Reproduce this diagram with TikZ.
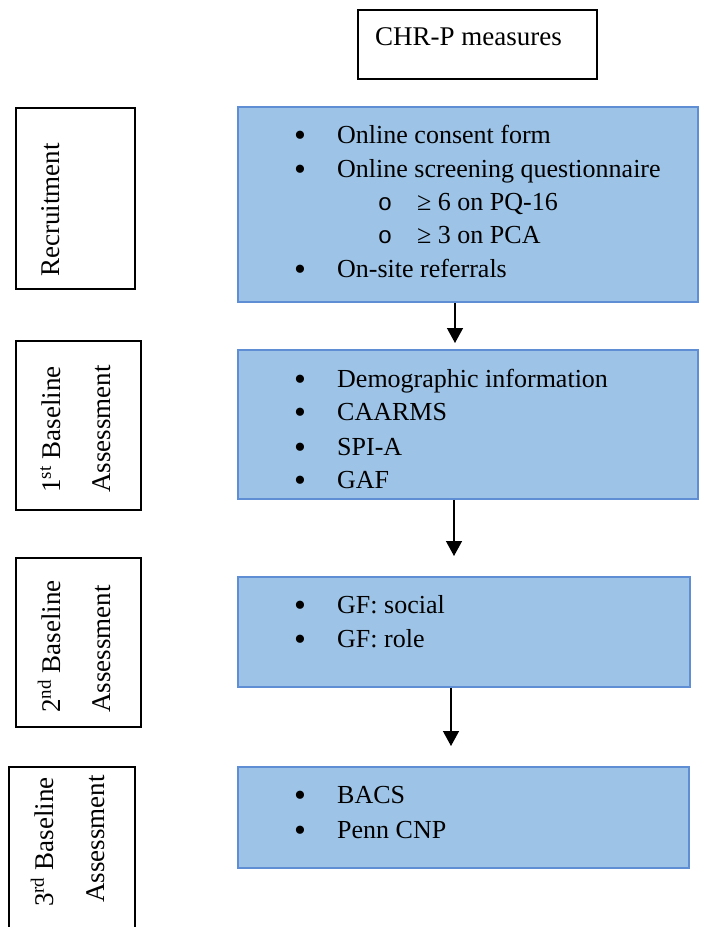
\documentclass[tikz,border=0pt]{standalone}
\usepackage{fontspec}
\setmainfont{Liberation Serif}
\newfontfamily\monofont{Liberation Mono}
\usetikzlibrary{arrows.meta}
\definecolor{boxfill}{RGB}{157,195,230}
\definecolor{boxline}{RGB}{96,142,212}
\tikzset{
  bluebox/.style={draw=boxline, fill=boxfill, line width=1.5pt, inner sep=0pt},
  labelbox/.style={draw=black, line width=1.3pt, inner sep=0pt},
  itemtext/.style={anchor=base west, inner sep=0pt, font=\fontsize{26}{30}\selectfont},
  bul/.style={anchor=base, inner sep=0pt, font=\fontsize{34}{38}\selectfont, yshift=-3.5pt},
  subbul/.style={anchor=base, inner sep=0pt, font=\monofont\fontsize{24}{28}\selectfont},
  sidetext/.style={anchor=base west, inner sep=0pt, rotate=90, font=\fontsize{27}{32}\selectfont},
  arr/.style={line width=1.4pt, -{Triangle[width=16pt,length=15pt]}}
}
\begin{document}
\begin{tikzpicture}[x=1pt,y=-1pt]
\useasboundingbox (0,0) rectangle (701,927);
% header
\node[labelbox, minimum width=239pt, minimum height=69pt] (hdr) at (477.5,44.5) {};
\node[anchor=base west, inner sep=0pt, font=\fontsize{27}{32}\selectfont] (hdrt) at (375,45) {CHR-P measures};
% left label boxes
\node[labelbox, minimum width=119pt, minimum height=181pt] (l1) at (75.5,198.5) {};
\node[sidetext] (l1t) at (59,277) {Recruitment};
\node[labelbox, minimum width=125pt, minimum height=169pt] (l2) at (78.5,425.5) {};
\node[sidetext] (l2a) at (60,493) {1\textsuperscript{st} Baseline};
\node[sidetext] (l2b) at (110,493) {Assessment};
\node[labelbox, minimum width=125pt, minimum height=169pt] (l3) at (78.5,642.5) {};
\node[sidetext] (l3a) at (60,713) {2\textsuperscript{nd} Baseline};
\node[sidetext] (l3b) at (110,713) {Assessment};
\node[labelbox, minimum width=126pt, minimum height=180pt] (l4) at (72,857) {};
\node[sidetext] (l4a) at (53,907) {3\textsuperscript{rd} Baseline};
\node[sidetext] (l4b) at (104,903) {Assessment};
% blue boxes
\node[bluebox, minimum width=460pt, minimum height=195pt] (b1) at (468,204.5) {};
\node[bluebox, minimum width=460pt, minimum height=149pt] (b2) at (468,424.5) {};
\node[bluebox, minimum width=452pt, minimum height=110pt] (b3) at (464,632) {};
\node[bluebox, minimum width=451pt, minimum height=101pt] (b4) at (463.5,817.5) {};
% box 1 items
\node[bul] (b1d1) at (300,143) {•};
\node[itemtext] (b1i1) at (337,143) {Online consent form};
\node[bul] (b1d2) at (300,177) {•};
\node[itemtext] (b1i2) at (337,177) {Online screening questionnaire};
\node[subbul] (b1d3) at (385,210) {o};
\node[itemtext] (b1i3) at (417,210) {≥ 6 on PQ-16};
\node[subbul] (b1d4) at (385,243) {o};
\node[itemtext] (b1i4) at (417,243) {≥ 3 on PCA};
\node[bul] (b1d5) at (300,277) {•};
\node[itemtext] (b1i5) at (337,277) {On-site referrals};
% box 2 items
\node[bul] (b2d1) at (300,387) {•};
\node[itemtext] (b2i1) at (337,387) {Demographic information};
\node[bul] (b2d2) at (300,420) {•};
\node[itemtext] (b2i2) at (337,420) {CAARMS};
\node[bul] (b2d3) at (300,455) {•};
\node[itemtext] (b2i3) at (337,455) {SPI-A};
\node[bul] (b2d4) at (300,488) {•};
\node[itemtext] (b2i4) at (337,488) {GAF};
% box 3 items
\node[bul] (b3d1) at (300,613) {•};
\node[itemtext] (b3i1) at (337,613) {GF: social};
\node[bul] (b3d2) at (300,647) {•};
\node[itemtext] (b3i2) at (337,647) {GF: role};
% box 4 items
\node[bul] (b4d1) at (300,803) {•};
\node[itemtext] (b4i1) at (337,803) {BACS};
\node[bul] (b4d2) at (300,838) {•};
\node[itemtext] (b4i2) at (337,838) {Penn CNP};
% arrows
\coordinate (a1e) at (455,343);
\coordinate (a2e) at (454,556);
\coordinate (a3e) at (451,746);
\draw[arr] (b1.south -| a1e) -- (a1e);
\draw[arr] (b2.south -| a2e) -- (a2e);
\draw[arr] (b3.south -| a3e) -- (a3e);
\end{tikzpicture}
\end{document}
